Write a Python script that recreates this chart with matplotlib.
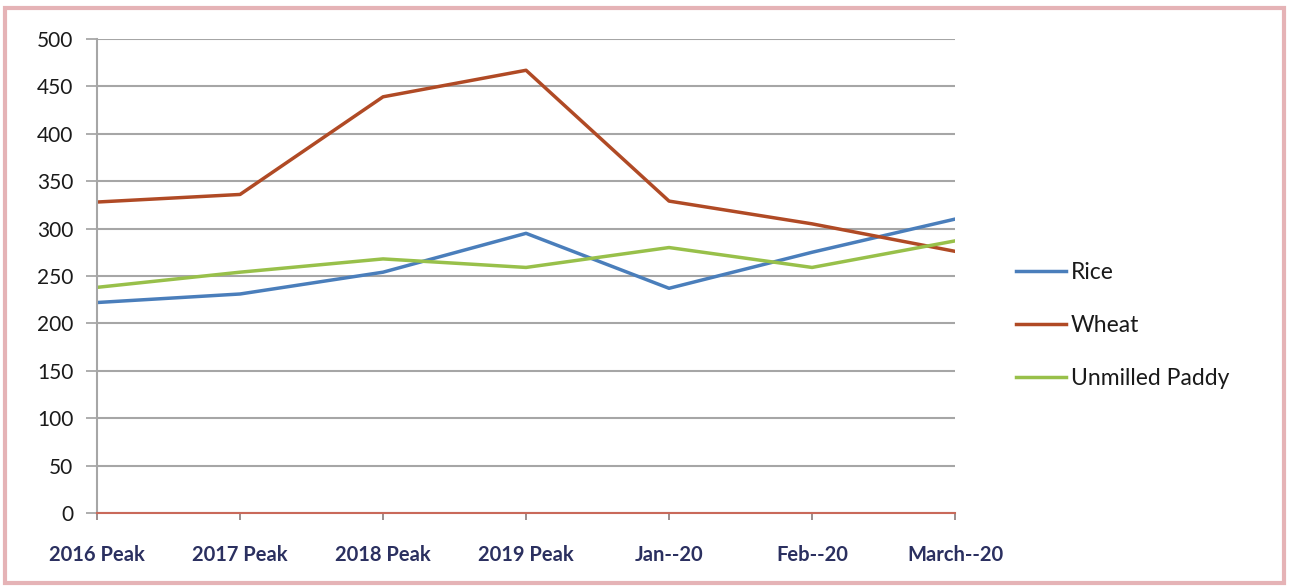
import matplotlib.pyplot as plt
import numpy as np
from matplotlib.patches import Rectangle

plt.rcParams['font.family'] = ['Lato', 'DejaVu Sans']

# Data
categories = ['2016 Peak', '2017 Peak', '2018 Peak', '2019 Peak', 'Jan--20', 'Feb--20', 'March--20']
rice = [222, 231, 254, 295, 237, 275, 310]
wheat = [328, 336, 439, 467, 329, 305, 276]
paddy = [238, 254, 268, 259, 280, 259, 287]
y_ticks = [0, 50, 100, 150, 200, 250, 300, 350, 400, 450, 500]

fig = plt.figure(figsize=(12.89, 5.88), dpi=100)
ax = fig.add_axes([0.0753, 0.1276, 0.6656, 0.8061])

x = np.arange(len(categories))

# Lines
ax.plot(x, rice, color='#4a7ebb', linewidth=2.5, label='Rice')
ax.plot(x, wheat, color='#b04a25', linewidth=2.5, label='Wheat')
ax.plot(x, paddy, color='#98c04a', linewidth=2.5, label='Unmilled Paddy')

# Axes setup
ax.set_xlim(0, len(categories) - 1)
ax.set_ylim(0, 500)
ax.set_yticks(y_ticks)
ax.set_xticks(x)
ax.set_xticklabels(categories, color='#2b3060', fontsize=14.5, fontweight='bold')
ax.tick_params(axis='y', labelsize=15, labelcolor='#1a1a1a', length=8, color='#a0a0a0', width=1.2, pad=9)
ax.tick_params(axis='x', length=5, color='#8a7a7a', width=1.2, pad=18)

ax.grid(axis='y', color='#a6a6a6', linewidth=1.5)
ax.set_axisbelow(True)
for side in ['top', 'right']:
    ax.spines[side].set_visible(False)
ax.spines['left'].set_color('#a6a6a6')
ax.spines['left'].set_linewidth(1.5)
ax.spines['bottom'].set_color('#c9695a')
ax.spines['bottom'].set_linewidth(1.5)

# Legend on the right
leg = ax.legend(loc='center left', bbox_to_anchor=(1.071, 0.395), frameon=False,
                fontsize=16.5, handlelength=2.2, handletextpad=0.2, labelspacing=1.4,
                borderpad=0, borderaxespad=0)
for t in leg.get_texts():
    t.set_color('#1a1a1a')

# Pink border around the whole figure
fig.patches.append(Rectangle((0.004, 0.008), 0.992, 0.978, transform=fig.transFigure,
                             fill=False, edgecolor='#e5b3b6', linewidth=3))

plt.savefig('out.png', dpi=100)
